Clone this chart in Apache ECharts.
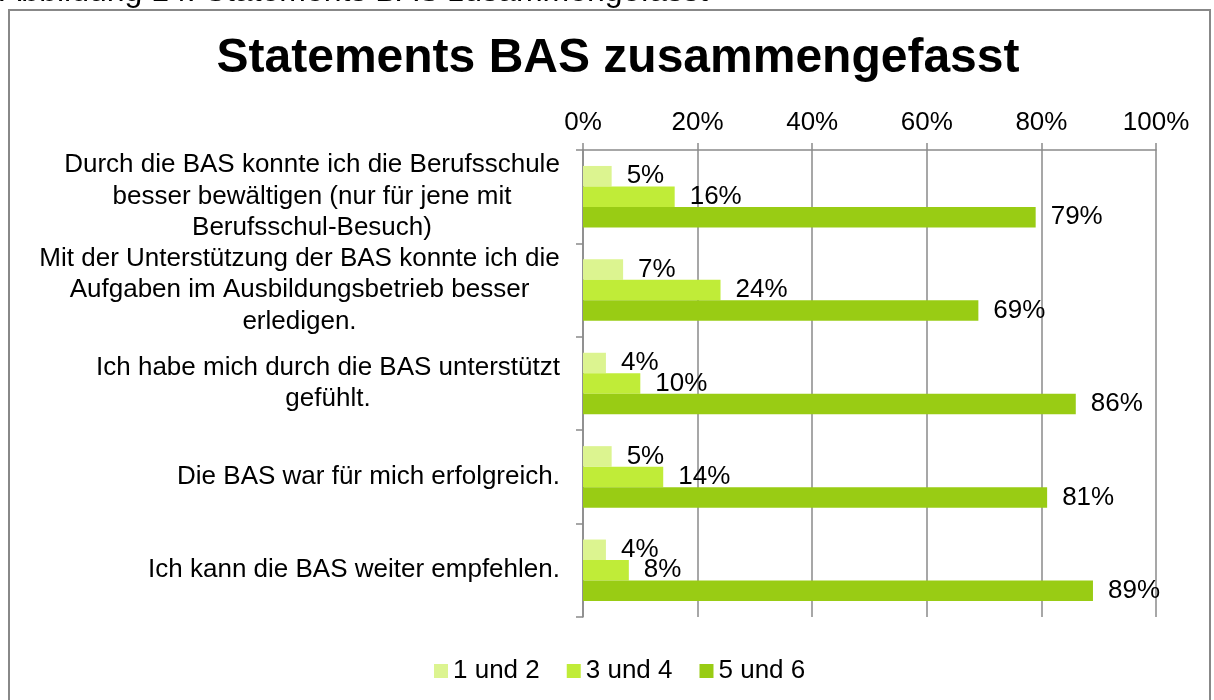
<!DOCTYPE html>
<html>
<head>
<meta charset="utf-8">
<script src="https://cdn.jsdelivr.net/npm/echarts@6/dist/echarts.min.js"></script>
<style>
    html, body { margin: 0; padding: 0; background: #fff; }
    #chart { width: 1214px; height: 700px; }
</style>
</head>
<body>
<div id="chart"></div>
<script>
    // Kategorien (mit Zeilenumbrüchen wie im Original)
    var categories = [
        'Durch die BAS konnte ich die Berufsschule\nbesser bewältigen (nur für jene mit\nBerufsschul-Besuch)',
        'Mit der Unterstützung der BAS konnte ich die\nAufgaben im Ausbildungsbetrieb besser\nerledigen.',
        'Ich habe mich durch die BAS unterstützt\ngefühlt.',
        'Die BAS war für mich erfolgreich.',
        'Ich kann die BAS weiter empfehlen.'
    ];
    var seriesNames = ['1 und 2', '3 und 4', '5 und 6'];
    var val12 = [5, 7, 4, 5, 4];
    var val34 = [16, 24, 10, 14, 8];
    var val56 = [79, 69, 86, 81, 89];
    var xTicks = [0, 20, 40, 60, 80, 100];

    var colors = ['#DCF490', '#C0EC38', '#99CC14'];
    var font = '"Liberation Sans", Arial, sans-serif';
    var gridColor = '#8a8a8a';

    // Breite jeder Beschriftung messen, damit die Zeilen zentriert untereinander stehen
    var ctx = document.createElement('canvas').getContext('2d');
    ctx.font = '26px ' + font;
    var rich = {};
    categories.forEach(function (c, i) {
        var w = 0;
        c.split('\n').forEach(function (s) {
            w = Math.max(w, ctx.measureText(s).width);
        });
        rich['c' + i] = {
            width: Math.ceil(w) + 2,
            align: 'center',
            fontSize: 26,
            lineHeight: 31.5,
            fontFamily: font,
            color: '#000'
        };
    });

    var chart = echarts.init(document.getElementById('chart'));

    function barSeries(name, data, color) {
        return {
            name: name,
            type: 'bar',
            data: data,
            barWidth: 20.5,
            barGap: '0%',
            itemStyle: { color: color },
            label: {
                show: true,
                position: 'right',
                distance: 15,
                formatter: '{c}%',
                fontSize: 26,
                fontFamily: font,
                color: '#000'
            }
        };
    }

    chart.setOption({
        animation: false,
        textStyle: { fontFamily: font },
        title: {
            text: 'Statements BAS zusammengefasst',
            left: 613,
            textAlign: 'center',
            top: 30,
            textStyle: {
                fontSize: 48,
                fontWeight: 'bold',
                color: '#000',
                fontFamily: font
            }
        },
        legend: {
            data: seriesNames,
            left: 429,
            top: 653,
            itemWidth: 14,
            itemHeight: 14,
            itemGap: 27,
            icon: 'rect',
            textStyle: { fontSize: 26, color: '#000', fontFamily: font }
        },
        graphic: [
            {
                type: 'rect',
                shape: { x: 9, y: 10, width: 1201, height: 700 },
                style: { fill: 'none', stroke: '#888', lineWidth: 2 },
                silent: true
            },
            {
                type: 'text',
                x: 0,
                y: -8,
                style: {
                    text: 'Abbildung 14: Statements BAS zusammengefasst',
                    fontSize: 32,
                    fontFamily: font,
                    fill: '#000',
                    verticalAlign: 'middle'
                },
                silent: true
            }
        ],
        grid: {
            left: 583,
            right: 58,
            top: 150,
            bottom: 83,
            containLabel: false
        },
        xAxis: {
            type: 'value',
            position: 'top',
            min: xTicks[0],
            max: xTicks[xTicks.length - 1],
            interval: 20,
            axisLine: { show: true, lineStyle: { color: gridColor, width: 1.5 } },
            axisTick: { show: true, length: 7, lineStyle: { color: gridColor, width: 1.5 } },
            splitLine: { show: true, lineStyle: { color: gridColor, width: 1.5 } },
            axisLabel: {
                formatter: '{value}%',
                fontSize: 26,
                color: '#000',
                margin: 14,
                fontFamily: font
            }
        },
        yAxis: {
            type: 'category',
            inverse: true,
            data: categories,
            axisLine: { show: true, lineStyle: { color: gridColor, width: 1.5 } },
            axisTick: { show: true, length: 7, lineStyle: { color: gridColor, width: 1.5 } },
            axisLabel: {
                margin: 22,
                formatter: function (v, i) {
                    return v.split('\n').map(function (s) {
                        return '{c' + i + '|' + s + '}';
                    }).join('\n');
                },
                rich: rich
            }
        },
        series: [
            barSeries(seriesNames[0], val12, colors[0]),
            barSeries(seriesNames[1], val34, colors[1]),
            barSeries(seriesNames[2], val56, colors[2])
        ]
    });
</script>
</body>
</html>
